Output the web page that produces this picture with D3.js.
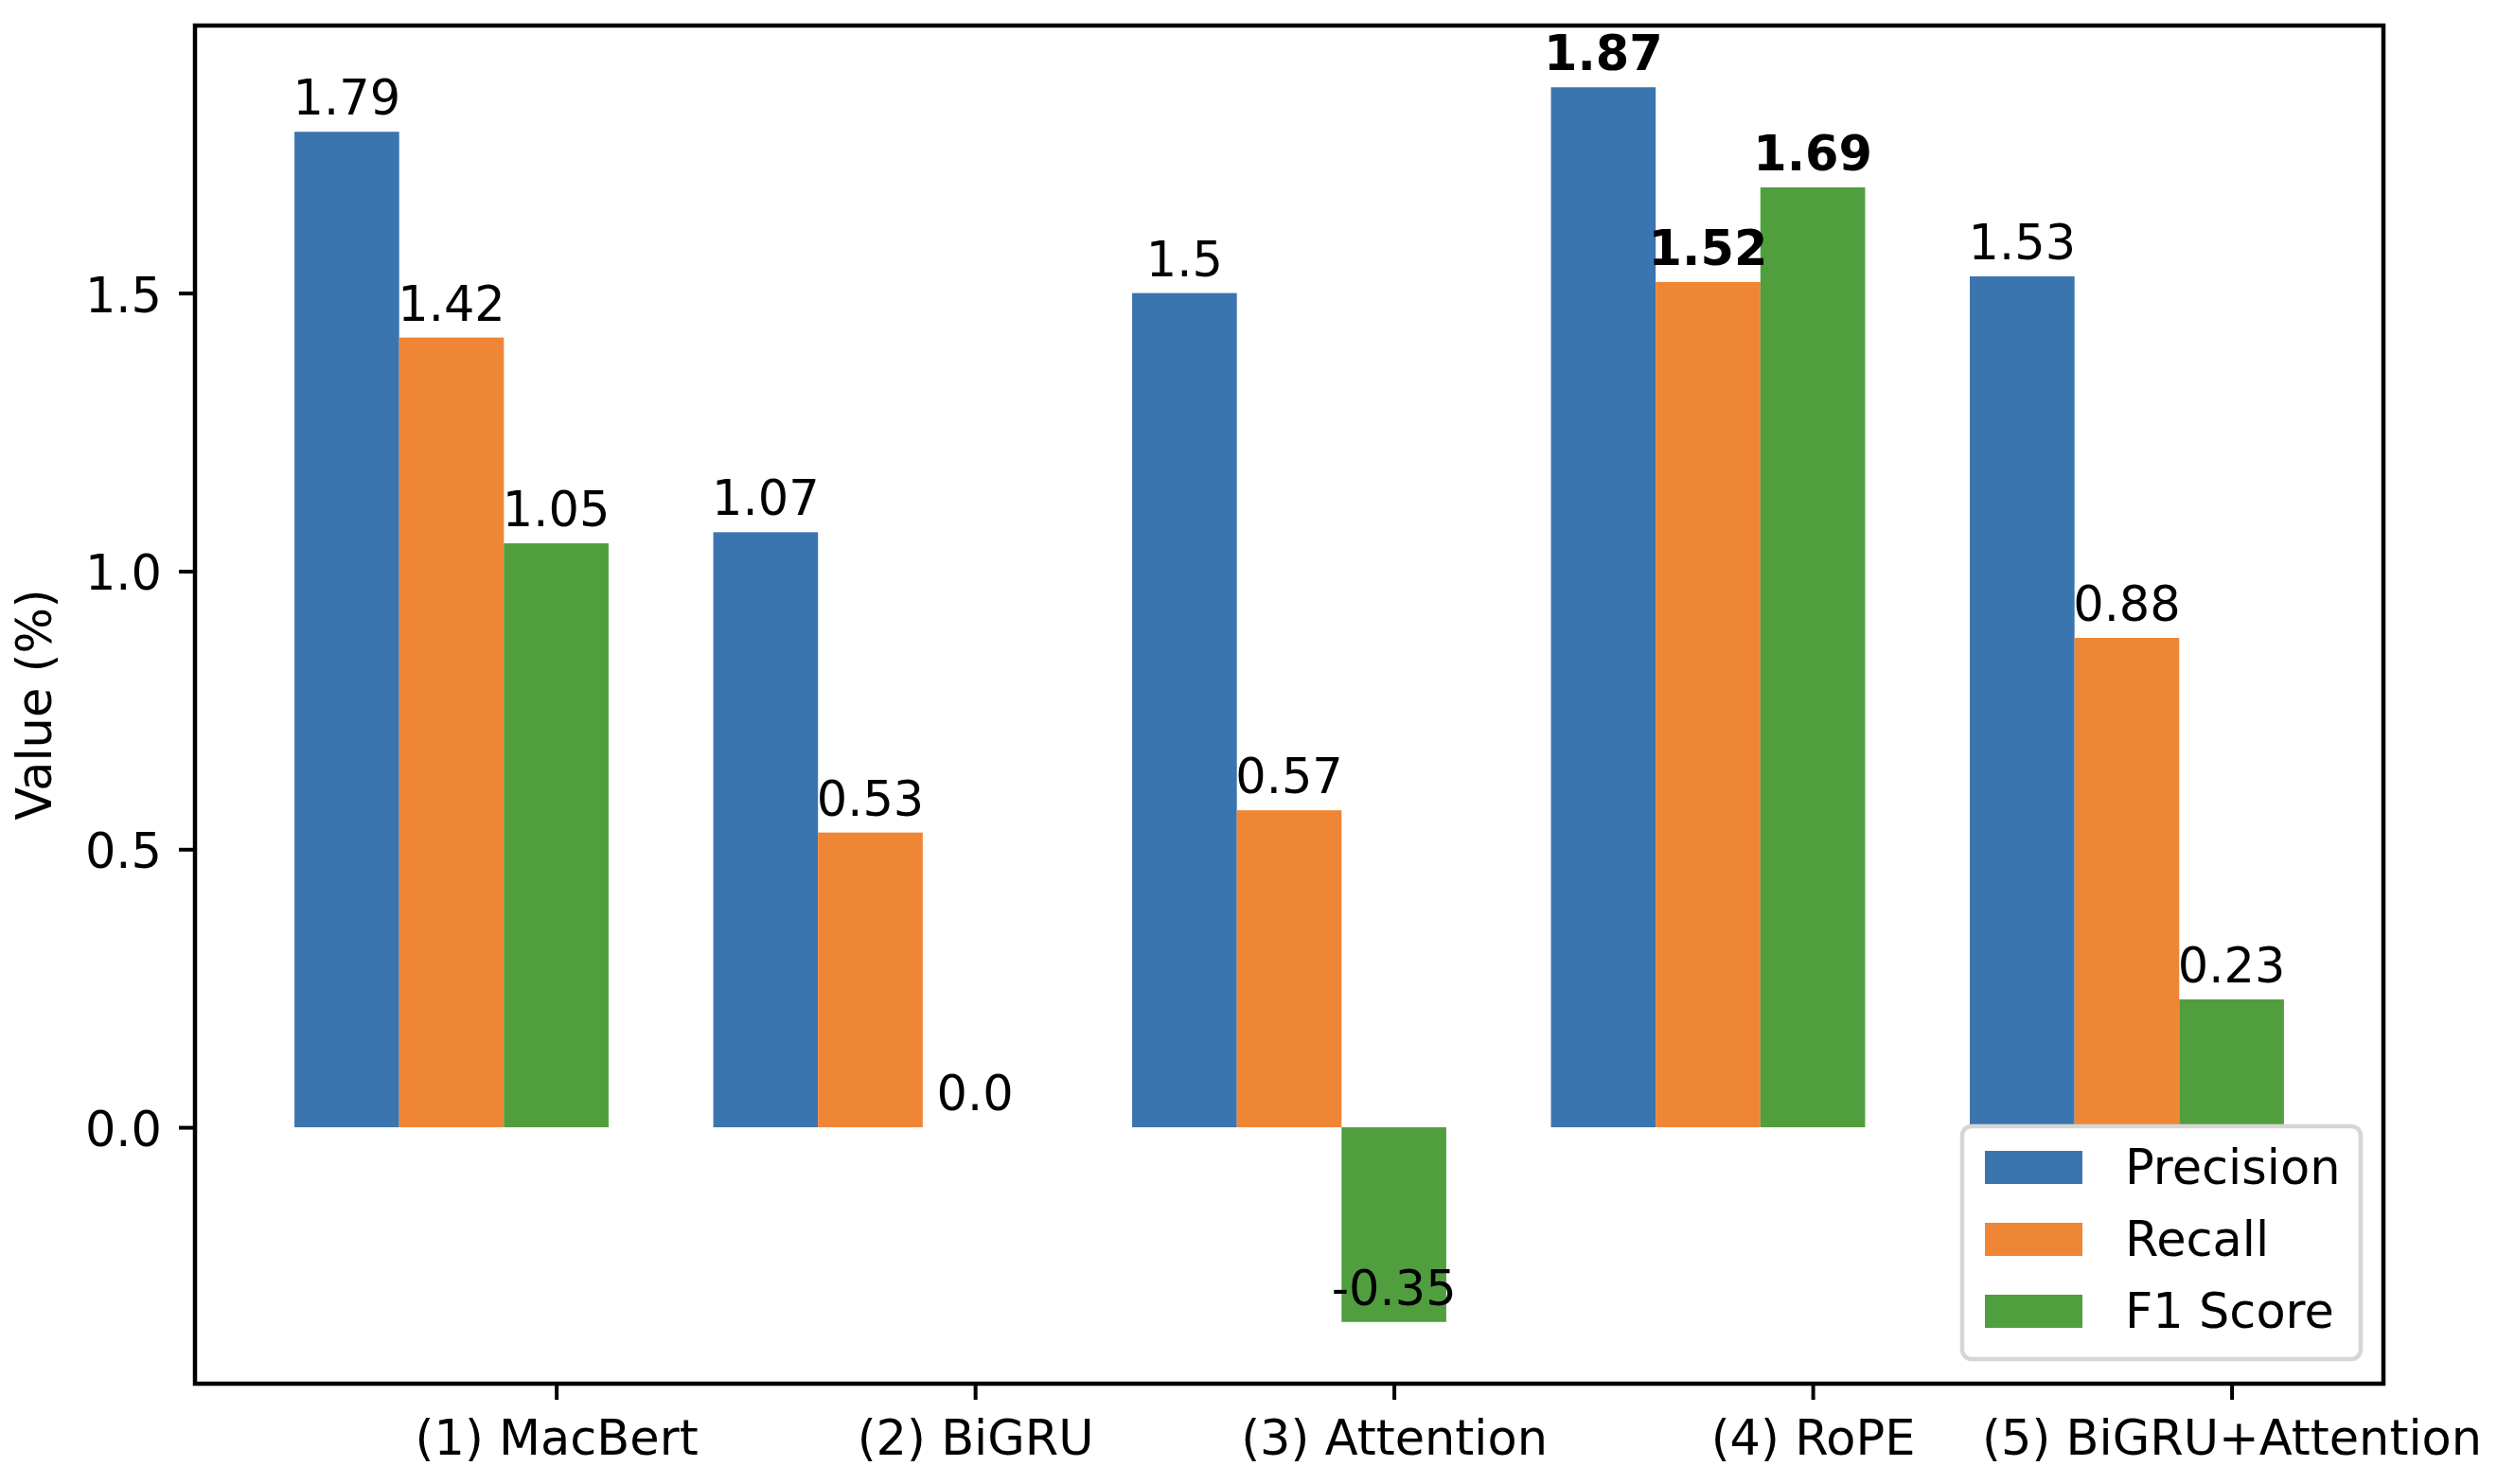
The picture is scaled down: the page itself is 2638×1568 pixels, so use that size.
<!DOCTYPE html>
<html>
<head>
<meta charset="utf-8">
<script src="https://cdn.jsdelivr.net/npm/d3@7"></script>
<style>
  html, body { margin: 0; padding: 0; background: #fff; }
  svg { display: block; font-family: "DejaVu Sans", sans-serif; }
</style>
</head>
<body>
<div id="chart"></div>
<script>
const categories = ["(1) MacBert", "(2) BiGRU", "(3) Attention", "(4) RoPE", "(5) BiGRU+Attention"];
const seriesNames = ["Precision", "Recall", "F1 Score"];
const precision = [1.79, 1.07, 1.5, 1.87, 1.53];
const recall = [1.42, 0.53, 0.57, 1.52, 0.88];
const f1 = [1.05, 0.0, -0.35, 1.69, 0.23];
const yTicks = [0.0, 0.5, 1.0, 1.5];
const boldCategory = "(4) RoPE";

const colors = ["#3b75af", "#ef8636", "#519e3e"];
const values = [precision, recall, f1];

const W = 2638, H = 1568;
const margin = {top: 27, right: 120, bottom: 106, left: 206};
const width = W - margin.left - margin.right;
const height = H - margin.top - margin.bottom;
const fontSize = 51;
const barW = 0.25;

const data = [];
categories.forEach((c, i) => {
    values.forEach((vals, s) => {
        data.push({cat: c, i: i, s: s, v: vals[i]});
    });
});

const svg = d3.select("#chart")
    .append("svg")
    .attr("width", W)
    .attr("height", H)
    .append("g")
    .attr("transform", `translate(${margin.left},${margin.top})`);

// bars are centred at i-0.25, i, i+0.25; matplotlib-like 5% margins
const xMin = -0.375, xMax = categories.length - 1 + 0.375;
const xPad = (xMax - xMin) * 0.05;
const x = d3.scaleLinear()
    .domain([xMin - xPad, xMax + xPad])
    .range([0, width]);

const allVals = values.flat();
const yLo = d3.min(allVals), yHi = d3.max(allVals);
const yPad = (yHi - yLo) * 0.05;
const y = d3.scaleLinear()
    .domain([yLo - yPad, yHi + yPad])
    .range([height, 0]);

const bw = x(barW) - x(0);
const cx = d => x(d.i + (d.s - 1) * barW);

svg.selectAll(".bar")
    .data(data)
    .enter().append("rect")
    .attr("class", "bar")
    .attr("x", d => cx(d) - bw / 2)
    .attr("y", d => y(Math.max(0, d.v)))
    .attr("width", bw)
    .attr("height", d => Math.abs(y(d.v) - y(0)))
    .attr("fill", d => colors[d.s]);

const fmt = v => Number.isInteger(v) ? v.toFixed(1) : String(v);

svg.selectAll(".val")
    .data(data)
    .enter().append("text")
    .attr("class", "val")
    .attr("x", d => cx(d))
    .attr("y", d => y(d.v) - 18)
    .attr("text-anchor", "middle")
    .style("font-size", fontSize + "px")
    .style("font-weight", d => d.cat === boldCategory ? "bold" : "normal")
    .text(d => fmt(d.v));

// axes
const yAxis = svg.append("g")
    .call(d3.axisLeft(y).tickValues(yTicks).tickFormat(d3.format(".1f"))
        .tickSize(17).tickSizeOuter(0).tickPadding(18));
yAxis.select(".domain").remove();
yAxis.selectAll("line").attr("stroke", "#000").attr("stroke-width", 4);
yAxis.selectAll("text")
    .attr("dy", "19.5px")
    .style("font-size", fontSize + "px")
    .style("font-family", "DejaVu Sans");

const xAxis = svg.append("g")
    .attr("transform", `translate(0,${height})`)
    .call(d3.axisBottom(x).tickValues(categories.map((c, i) => i + barW))
        .tickFormat((d, i) => categories[i])
        .tickSize(17).tickSizeOuter(0));
xAxis.select(".domain").remove();
xAxis.selectAll("line").attr("stroke", "#000").attr("stroke-width", 4);
xAxis.selectAll("text")
    .attr("y", 75)
    .attr("dy", 0)
    .style("font-size", fontSize + "px")
    .style("font-family", "DejaVu Sans");

svg.append("rect")
    .attr("x", 0)
    .attr("y", 0)
    .attr("width", width)
    .attr("height", height)
    .attr("fill", "none")
    .attr("stroke", "#000")
    .attr("stroke-width", 4.5);

svg.append("text")
    .attr("transform", `translate(${54 - margin.left},${height / 2}) rotate(-90)`)
    .attr("text-anchor", "middle")
    .style("font-size", fontSize + "px")
    .text("Value (%)");

// legend
const legend = svg.append("g")
    .attr("transform", `translate(${2073 - margin.left},${1190 - margin.top})`);

legend.append("rect")
    .attr("width", 421)
    .attr("height", 246)
    .attr("rx", 10)
    .attr("fill", "#fff")
    .attr("fill-opacity", 0.8)
    .attr("stroke", "#d6d6d6")
    .attr("stroke-width", 4.5);

const item = legend.selectAll(".item")
    .data(seriesNames)
    .enter().append("g")
    .attr("class", "item")
    .attr("transform", (d, i) => `translate(24,${26 + i * 76})`);

item.append("rect")
    .attr("width", 103)
    .attr("height", 35)
    .attr("fill", (d, i) => colors[i]);

item.append("text")
    .attr("x", 148)
    .attr("y", 35)
    .style("font-size", fontSize + "px")
    .text(d => d);
</script>
</body>
</html>
